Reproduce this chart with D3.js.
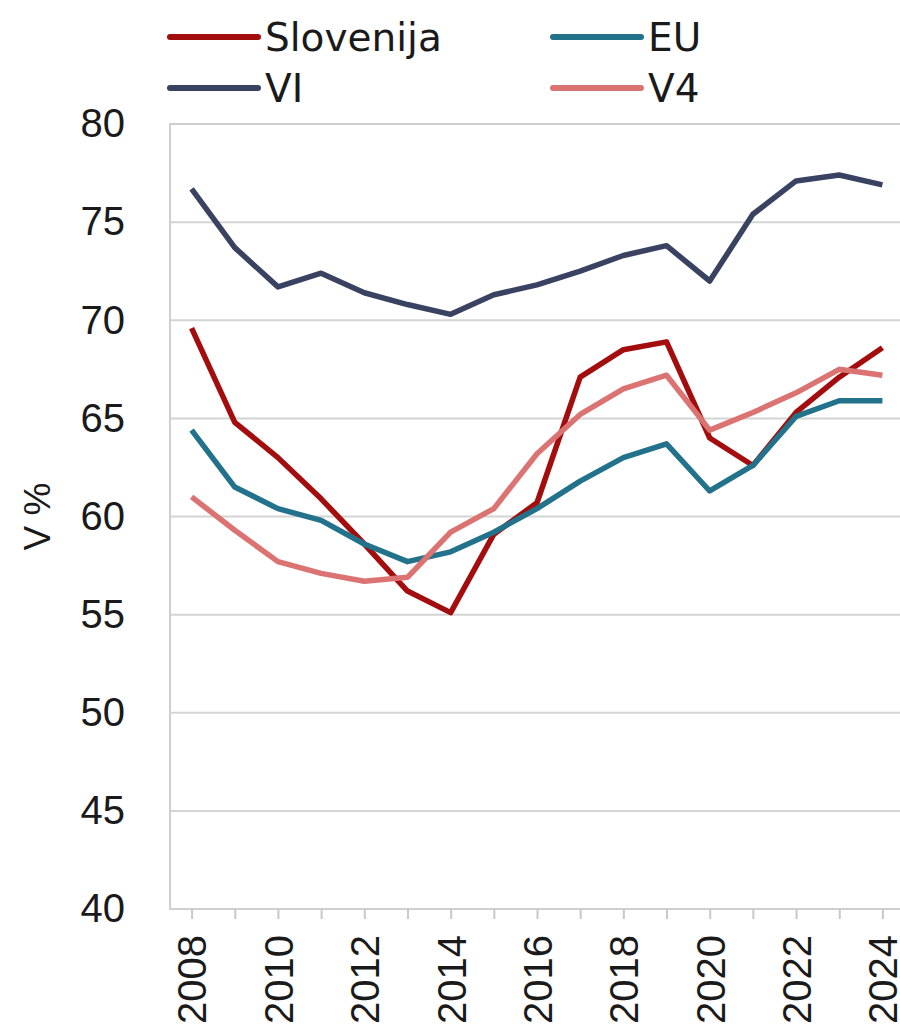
<!DOCTYPE html>
<html>
<head>
<meta charset="utf-8">
<script src="https://cdn.jsdelivr.net/npm/d3@7"></script>
<style>
  body { margin: 0; background: #fff; }
  svg { display: block; }
</style>
</head>
<body>
<svg width="900" height="1034"></svg>
<script>
// values
const years = [2008, 2009, 2010, 2011, 2012, 2013, 2014, 2015, 2016, 2017, 2018, 2019, 2020, 2021, 2022, 2023, 2024];
const slovenija = [69.6, 64.8, 63.0, 60.9, 58.6, 56.2, 55.1, 59.1, 60.7, 67.1, 68.5, 68.9, 64.0, 62.6, 65.3, 67.1, 68.6];
const eu = [64.4, 61.5, 60.4, 59.8, 58.6, 57.7, 58.2, 59.2, 60.4, 61.8, 63.0, 63.7, 61.3, 62.6, 65.1, 65.9, 65.9];
const vi = [76.7, 73.7, 71.7, 72.4, 71.4, 70.8, 70.3, 71.3, 71.8, 72.5, 73.3, 73.8, 72.0, 75.4, 77.1, 77.4, 76.9];
const v4 = [61.0, 59.3, 57.7, 57.1, 56.7, 56.9, 59.2, 60.4, 63.2, 65.2, 66.5, 67.2, 64.4, 65.3, 66.3, 67.5, 67.2];
const yTicks = [40, 45, 50, 55, 60, 65, 70, 75, 80];
const xLabels = [2008, 2010, 2012, 2014, 2016, 2018, 2020, 2022, 2024];

const series = [
  { name: "Slovenija", values: slovenija, color: "#a30d0d" },
  { name: "EU", values: eu, color: "#21728a" },
  { name: "VI", values: vi, color: "#3a4262" },
  { name: "V4", values: v4, color: "#dc7373" }
];

const svg = d3.select("svg");
const plotL = 170, plotR = 904, plotT = 124, plotB = 909;

const x = d3.scalePoint().domain(years).range([plotL, plotR]).padding(0.5);
const y = d3.scaleLinear().domain([40, 80]).range([plotB, plotT]);

// gridlines
svg.append("g")
  .selectAll("line")
  .data(yTicks)
  .join("line")
  .attr("x1", plotL).attr("x2", plotR)
  .attr("y1", d => y(d)).attr("y2", d => y(d))
  .attr("stroke", "#d4d4d4")
  .attr("stroke-width", 2);

// plot border
svg.append("rect")
  .attr("x", plotL).attr("y", plotT)
  .attr("width", plotR - plotL).attr("height", plotB - plotT)
  .attr("fill", "none")
  .attr("stroke", "#cfcfcf")
  .attr("stroke-width", 2);

// y axis
const yAxis = svg.append("g")
  .attr("transform", `translate(${plotL},0)`)
  .call(d3.axisLeft(y).tickValues(yTicks).tickSize(0).tickPadding(45));
yAxis.select(".domain").remove();
yAxis.selectAll("text")
  .attr("font-family", "Liberation Sans, Arial, sans-serif")
  .attr("font-size", 40)
  .attr("fill", "#1a1a1a");

// x axis
const xAxis = svg.append("g")
  .attr("transform", `translate(0,${plotB})`)
  .call(d3.axisBottom(x).tickSize(10).tickFormat(d => xLabels.includes(d) ? d : ""));
xAxis.select(".domain").remove();
xAxis.selectAll("line").attr("stroke", "#c8c8c8").attr("stroke-width", 2);
xAxis.selectAll("text")
  .attr("font-family", "Liberation Sans, Arial, sans-serif")
  .attr("font-size", 40)
  .attr("fill", "#1a1a1a")
  .attr("text-anchor", "end")
  .attr("transform", "rotate(-90)")
  .attr("x", -26)
  .attr("y", 0)
  .attr("dy", "0.36em");

// axis title
svg.append("text")
  .attr("transform", `translate(50,${(plotT + plotB) / 2}) rotate(-90)`)
  .attr("text-anchor", "middle")
  .attr("font-family", "Liberation Sans, Arial, sans-serif")
  .attr("font-size", 37)
  .attr("fill", "#1a1a1a")
  .text("V %");

// lines
const line = d3.line()
  .x((d, i) => x(years[i]))
  .y(d => y(d));

svg.append("g")
  .selectAll("path")
  .data(series)
  .join("path")
  .attr("d", d => line(d.values))
  .attr("fill", "none")
  .attr("stroke", d => d.color)
  .attr("stroke-width", 5.5)
  .attr("stroke-linejoin", "round");

// legend
const legendPos = [
  { name: "Slovenija", lx: 167, ly: 37 },
  { name: "EU", lx: 550, ly: 37 },
  { name: "VI", lx: 167, ly: 88 },
  { name: "V4", lx: 550, ly: 88 }
];
const legend = svg.append("g");
legendPos.forEach(p => {
  const s = series.find(d => d.name === p.name);
  legend.append("line")
    .attr("x1", p.lx + 3).attr("x2", p.lx + 91)
    .attr("y1", p.ly).attr("y2", p.ly)
    .attr("stroke", s.color)
    .attr("stroke-width", 6)
    .attr("stroke-linecap", "round");
  legend.append("text")
    .attr("x", p.lx + 98)
    .attr("y", p.ly + 14)
    .attr("font-family", "DejaVu Sans, sans-serif")
    .attr("font-size", 39)
    .attr("fill", "#1a1a1a")
    .text(p.name);
});
</script>
</body>
</html>
